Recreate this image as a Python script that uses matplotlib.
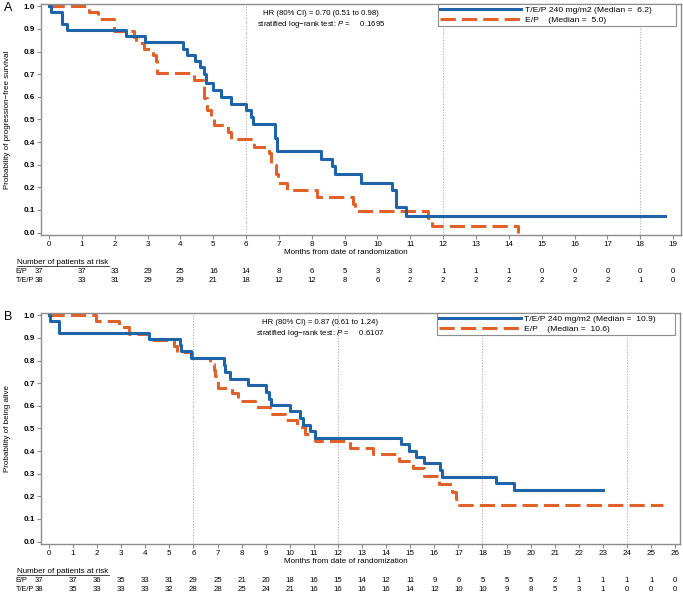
# =====================================================
# KAPLAN-MEIER CURVES: PFS (A) AND OS (B)
# =====================================================

import matplotlib
matplotlib.use("Agg")
import matplotlib.pyplot as plt
from matplotlib.lines import Line2D
from matplotlib.transforms import blended_transform_factory

plt.rcParams["font.family"] = ["Liberation Sans", "DejaVu Sans"]
plt.rcParams["mathtext.fontset"] = "custom"
plt.rcParams["mathtext.rm"] = "Liberation Sans"
plt.rcParams["mathtext.it"] = "Liberation Sans:italic"

BLUE = "#1f63a8"
ORANGE = "#e1612b"
GREY = "#8c8c8c"

# -----------------------------
# PANEL A DATA (progression-free survival)
# -----------------------------

a_tep_time = [0, 0.06, 0.41, 0.54, 2.34, 2.92, 4.07, 4.2, 4.45, 4.6, 4.72, 4.78,
              4.98, 5.24, 5.54, 6.0, 6.15, 6.2, 6.88, 6.94, 8.28, 8.62, 8.7,
              9.5, 10.43, 10.57, 10.87, 18.75]
a_tep_surv = [1.0, 0.974, 0.921, 0.895, 0.868, 0.840, 0.812, 0.785, 0.757, 0.730,
              0.700, 0.660, 0.630, 0.600, 0.570, 0.540, 0.510, 0.480, 0.420,
              0.360, 0.327, 0.295, 0.260, 0.220, 0.187, 0.113, 0.075, 0.075]

a_ep_time = [0, 1.23, 1.48, 1.98, 2.6, 2.65, 2.9, 3.16, 3.26, 3.3, 4.42, 4.68,
             4.72, 4.8, 4.93, 5.03, 5.44, 5.54, 6.24, 6.7, 6.76, 6.9, 6.97,
             7.25, 8.16, 9.25, 9.32, 11.53, 11.66, 14.29, 14.29]
a_ep_surv = [1.0, 0.973, 0.946, 0.892, 0.865, 0.838, 0.811, 0.784, 0.757, 0.703,
             0.676, 0.649, 0.595, 0.541, 0.514, 0.475, 0.446, 0.413, 0.380,
             0.350, 0.300, 0.260, 0.220, 0.190, 0.157, 0.125, 0.094, 0.063,
             0.031, 0.0, 0.0]

a_months = list(range(0, 20))
a_risk_ep = [37, 37, 33, 29, 25, 16, 14, 8, 6, 5, 3, 3, 1, 1, 1, 0, 0, 0, 0, 0]
a_risk_tep = [38, 33, 31, 29, 29, 21, 18, 12, 12, 8, 6, 2, 2, 2, 2, 2, 2, 2, 1, 0]

# -----------------------------
# PANEL B DATA (overall survival)
# -----------------------------

b_tep_time = [0, 0.05, 0.43, 4.14, 5.45, 5.5, 5.9, 7.25, 7.3, 7.52, 8.25, 9.03,
              9.15, 9.2, 10.0, 10.41, 10.55, 10.83, 11.03, 14.6, 14.96, 15.23,
              15.58, 16.25, 16.3, 18.57, 19.3, 23.0]
b_tep_surv = [1.0, 0.974, 0.921, 0.895, 0.868, 0.842, 0.810, 0.778, 0.750,
              0.718, 0.690, 0.660, 0.630, 0.603, 0.575, 0.545, 0.515, 0.487,
              0.457, 0.430, 0.400, 0.373, 0.345, 0.315, 0.285, 0.258, 0.228,
              0.228]

b_ep_time = [0, 1.94, 2.9, 3.32, 4.14, 5.18, 5.3, 5.94, 6.69, 6.85, 6.9, 7.04,
             7.59, 7.86, 8.55, 9.17, 9.79, 10.28, 10.62, 11.03, 12.48, 13.45,
             14.55, 15.1, 15.58, 16.2, 16.75, 16.9, 17.02, 25.5]
b_ep_surv = [1.0, 0.973, 0.946, 0.919, 0.892, 0.865, 0.838, 0.811, 0.784, 0.757,
             0.730, 0.680, 0.655, 0.620, 0.593, 0.565, 0.535, 0.505, 0.475,
             0.445, 0.415, 0.385, 0.355, 0.323, 0.290, 0.255, 0.220, 0.190,
             0.160, 0.160]

b_months = list(range(0, 27))
b_risk_ep = [37, 37, 36, 35, 33, 31, 29, 25, 21, 20, 18, 16, 15, 14, 12, 11, 9,
             6, 5, 5, 5, 2, 1, 1, 1, 1, 0]
b_risk_tep = [38, 35, 33, 33, 33, 32, 28, 28, 25, 24, 21, 16, 16, 16, 16, 14, 12,
              10, 10, 9, 8, 5, 3, 1, 0, 0, 0]

# -----------------------------
# DRAW ONE PANEL
# -----------------------------

def draw_panel(ax, letter, ylabel, tep, ep, months, risk_ep, risk_tep,
               xmax, reflines, first_x, hr_text, p_text, med_tep, med_ep):

    l_ep, = ax.step(ep[0], ep[1], where="post", color=ORANGE, lw=2.2,
                    dashes=(5, 2), solid_capstyle="butt")
    l_tep, = ax.step(tep[0], tep[1], where="post", color=BLUE, lw=2.2)

    for r in reflines:
        ax.axvline(r, color="#aaaaaa", lw=0.8, ls=(0, (1, 1.5)), zorder=0)

    ax.set_xlim(xmax[0], xmax[1])
    ax.set_ylim(-0.011, 1.01)
    ax.set_xticks(months)
    ax.set_yticks([i / 10 for i in range(11)])
    ax.set_yticklabels([f"{i / 10:.1f}" for i in range(11)], fontweight="bold")
    ax.tick_params(axis="both", direction="out", length=3, width=0.8,
                   color=GREY, labelsize=5.8, pad=1.2)

    for s in ax.spines.values():
        s.set_color(GREY)
        s.set_linewidth(1.0)

    ax.set_ylabel(ylabel, fontsize=5.8)
    ax.yaxis.set_label_coords(-0.047, 0.5)

    ax.text(0.477, -0.075, "Months from date of randomization", fontsize=5.8,
            ha="center", va="center", transform=ax.transAxes)

    ax.text(-0.058, 1.01, letter, fontsize=9, ha="left", va="top",
            transform=ax.transAxes)

    ax.text(0.4375, 0.975, hr_text + "\n" + p_text, fontsize=5.6,
            ha="center", va="top", multialignment="center",
            linespacing=1.35, transform=ax.transAxes)

    leg = ax.legend([l_tep, l_ep],
                    [f"T/E/P 240 mg/m2 (Median =  {med_tep})",
                     f"E/P    (Median =  {med_ep})"],
                    loc="lower left", bbox_to_anchor=(0.613, 0.885, 0.386, 0.107),
                    mode="expand", fontsize=6.1, handlelength=9.6,
                    handletextpad=0.4, borderpad=0.3, labelspacing=0.2,
                    fancybox=False, edgecolor=GREY, framealpha=1)
    leg.get_frame().set_linewidth(0.8)

    # risk table
    trans = blended_transform_factory(ax.transData, ax.transAxes)
    head = ax.text(-0.037, -0.121, "Number of patients at risk",
                   fontsize=5.8, ha="left", va="center", transform=ax.transAxes)
    ax.text(-0.04, -0.158, "E/P", fontsize=5.3, ha="left", va="center",
            transform=ax.transAxes)
    ax.text(-0.04, -0.197, "T/E/P", fontsize=5.3, ha="left", va="center",
            transform=ax.transAxes)
    for i, m in enumerate(months):
        x = first_x if i == 0 else m
        ax.text(x, -0.158, str(risk_ep[i]), fontsize=5.6, ha="center",
                va="center", transform=trans)
        ax.text(x, -0.197, str(risk_tep[i]), fontsize=5.6, ha="center",
                va="center", transform=trans)
    return head


fig = plt.figure(figsize=(6.83, 5.92), dpi=100)

ax_a = fig.add_axes([0.060, 0.6030, 0.937, 0.3902])
ax_b = fig.add_axes([0.060, 0.0811, 0.9356, 0.3902])

head_a = draw_panel(ax_a, "A", "Probability of progression\u2212free survival",
                    (a_tep_time, a_tep_surv), (a_ep_time, a_ep_surv),
                    a_months, a_risk_ep, a_risk_tep, (-0.244, 19.24), [6, 12, 18], -0.3,
                    "HR (80% CI) = 0.70 (0.51 to 0.98)",
                    "stratified log\u2212rank test: $P$ =     0.1695", "6.2", "5.0")

head_b = draw_panel(ax_b, "B", "Probability of being alive",
                    (b_tep_time, b_tep_surv), (b_ep_time, b_ep_surv),
                    b_months, b_risk_ep, b_risk_tep, (-0.33, 26.2), [6, 12, 18, 24], -0.4,
                    "HR (80% CI) = 0.87 (0.61 to 1.24)",
                    "stratified log\u2212rank test: $P$ =     0.6107", "10.9", "10.6")

# underline the risk table headers
fig.canvas.draw()
renderer = fig.canvas.get_renderer()
for head in [head_a, head_b]:
    bb = head.get_window_extent(renderer).transformed(fig.transFigure.inverted())
    fig.add_artist(Line2D([bb.x0, bb.x1], [bb.y0 + 0.001, bb.y0 + 0.001],
                          transform=fig.transFigure, color="black", lw=0.5))

fig.savefig("out.png", dpi=100)
